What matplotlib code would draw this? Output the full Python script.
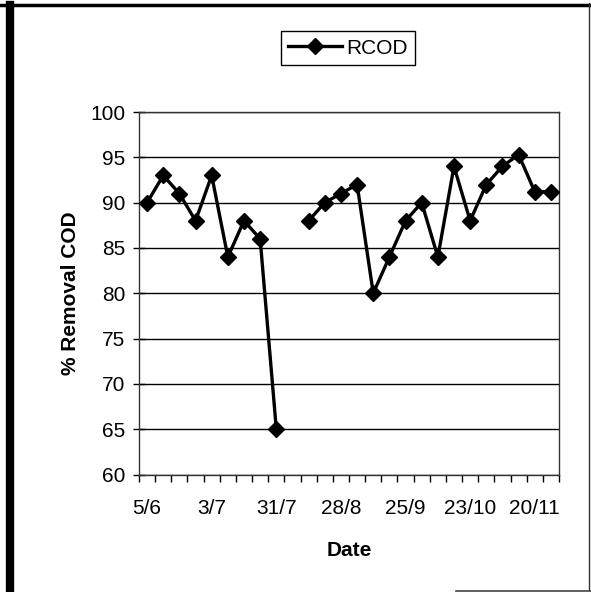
#!/usr/bin/env python3
# -*- coding: utf-8 -*-

import numpy as np
import pandas as pd
import matplotlib as mpl
mpl.use("Agg")
import matplotlib.pyplot as plt
import matplotlib.dates as mdates
from matplotlib.lines import Line2D

# ---- data (weekly samples, 7/8 missing) ----
DATES = pd.date_range("2000-06-05", "2000-11-27", freq="7D")
RCOD = [90, 93, 91, 88, 93, 84, 88, 86, 65, np.nan,
        88, 90, 91, 92, 80, 84, 88, 90, 84, 94,
        88, 92, 94, 95.3, 91.2, 91.2]
Y_TICKS = [60, 65, 70, 75, 80, 85, 90, 95, 100]
SERIES_NAME = "RCOD"

# ---- style ----
FONT = "Liberation Sans"
mpl.rcParams["font.family"] = FONT
FS_TICK = 15
FS_LABEL = 15
FS_LEGEND = 15

fig = plt.figure(figsize=(5.91, 5.92), dpi=100)
ax = fig.add_axes([139 / 591, 1 - 474.5 / 592, 420 / 591, (474.5 - 112) / 592])

ax.plot(DATES, RCOD, color="black", linewidth=2.4, marker="D",
        markersize=8, markerfacecolor="black", markeredgecolor="black",
        zorder=3)

half = pd.Timedelta(days=3.5)
x0, x1 = DATES[0] - half, DATES[-1] + half
ax.set_xlim(x0, x1)
ax.set_ylim(60, 100)

# minor ticks at week boundaries, labels every 4 weeks
edges = pd.date_range(x0, x1 + pd.Timedelta(hours=1), freq="7D")
ax.set_xticks(mdates.date2num(edges.to_pydatetime()), minor=True)
lab_dates = DATES[::4]
ax.set_xticks(mdates.date2num(lab_dates.to_pydatetime()))
ax.set_xticklabels([f"{d.day}/{d.month}" for d in lab_dates], fontsize=FS_TICK)
ax.tick_params(axis="x", which="major", length=0, pad=18)
ax.tick_params(axis="x", which="minor", length=5, width=1, direction="out")

ax.set_yticks(Y_TICKS)
ax.set_yticklabels([str(v) for v in Y_TICKS], fontsize=FS_TICK)
ax.tick_params(axis="y", length=8, width=1, direction="inout", pad=6)

ax.yaxis.grid(True, color="black", linewidth=1)
ax.set_axisbelow(True)
for s in ax.spines.values():
    s.set_color("#333333")
    s.set_linewidth(1)

ax.set_xlabel("Date", fontsize=FS_LABEL, fontweight="bold", labelpad=16)
ax.set_ylabel("% Removal COD", fontsize=FS_LABEL, fontweight="bold", labelpad=7)

# legend above the plot
handle = Line2D([], [], color="black", linewidth=2.4, marker="D",
                markersize=8, markerfacecolor="black")
fig.legend([handle], [SERIES_NAME], loc="center",
           bbox_to_anchor=(348 / 591, 1 - 48 / 592), fontsize=FS_LEGEND,
           frameon=True, fancybox=False, edgecolor="black", framealpha=1,
           handlelength=2.6, handletextpad=0.2, borderpad=0.35)

# scanned page frame
fig.add_artist(Line2D([0, 1], [1 - 5 / 592] * 2, color="black", linewidth=2.5,
                      transform=fig.transFigure))
fig.add_artist(Line2D([10 / 591] * 2, [0, 1 - 5 / 592], color="black",
                      linewidth=6, transform=fig.transFigure))
fig.add_artist(Line2D([589 / 591] * 2, [2 / 592, 1 - 3 / 592], color="#333333",
                      linewidth=1, transform=fig.transFigure))
fig.add_artist(Line2D([456 / 591, 1], [1 / 592] * 2, color="#444444",
                      linewidth=1.2, transform=fig.transFigure))

fig.savefig("out.png", dpi=100, facecolor="white")
